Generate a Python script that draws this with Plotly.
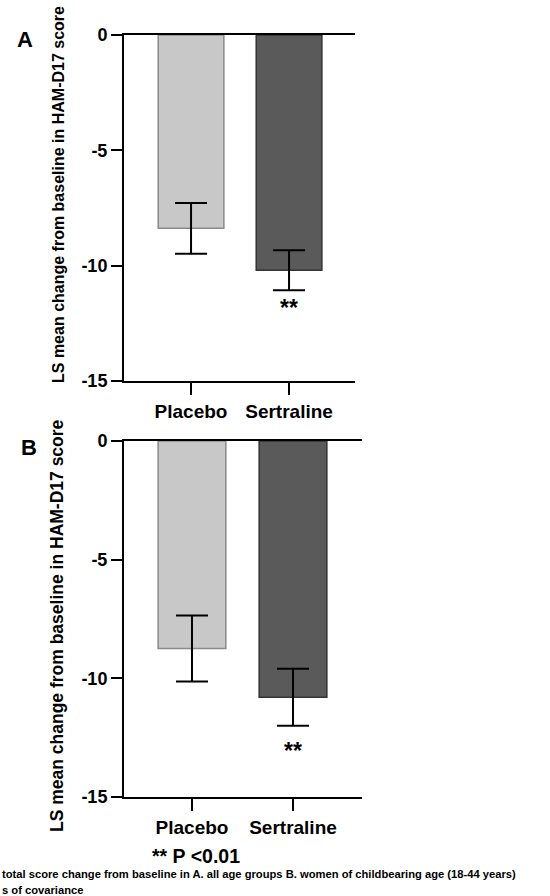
import plotly.graph_objects as go

W, H = 550, 896

categories = ["Placebo", "Sertraline"]
panel_a_means = [-8.38, -10.2]
panel_a_sem = [1.1, 0.87]
panel_b_means = [-8.74, -10.8]
panel_b_sem = [1.39, 1.2]
y_ticks = [0, -5, -10, -15]
y_title = "LS mean change from baseline in HAM-D17 score"
sig_label = "**"
footnote_sig = "** P <0.01"
footnote_1 = "total score change from baseline in A. all age groups B. women of childbearing age (18-44 years)"
footnote_2 = "s of covariance"

bar_colors = ["#c8c8c8", "#5a5a5a"]
bar_lines = ["#8a8a8a", "#333333"]

FONT = "Liberation Sans, Arial, sans-serif"


def px(x):
    return x / W


def py(y):
    return 1 - y / H


fig = go.Figure()
for means, sem, xa, ya in [(panel_a_means, panel_a_sem, "x", "y"),
                           (panel_b_means, panel_b_sem, "x2", "y2")]:
    fig.add_trace(go.Bar(
        x=categories, y=means, width=0.67,
        marker=dict(color=bar_colors, line=dict(color=bar_lines, width=1.5)),
        error_y=dict(type="data", array=sem, visible=True, color="black",
                     thickness=2, width=16),
        xaxis=xa, yaxis=ya, showlegend=False, hoverinfo="skip",
    ))

axis_common_y = dict(
    range=[-15, 0], tickvals=y_ticks, ticktext=["<b>%d</b>" % v for v in y_ticks],
    ticks="outside", ticklen=11, tickwidth=2, tickcolor="black",
    showline=True, linecolor="black", linewidth=2, showgrid=False, zeroline=False,
    automargin=False,
    tickfont=dict(family=FONT, size=18, color="black", weight="bold"),
)
axis_common_x = dict(
    type="category", ticks="outside", ticklen=12, tickwidth=2, tickcolor="black",
    showline=True, mirror=True, linecolor="black", linewidth=2, showgrid=False,
    automargin=False,
    tickfont=dict(family=FONT, size=19, color="black", weight="bold"),
)

fig.update_layout(
    template="simple_white",
    width=W, height=H, margin=dict(l=0, r=0, t=0, b=0, autoexpand=False),
    paper_bgcolor="white", plot_bgcolor="white",
    bargap=0.3,
    xaxis=dict(axis_common_x, domain=[px(124), px(355)], range=[-0.684, 1.673], anchor="y"),
    yaxis=dict(axis_common_y, domain=[py(381), py(35)], anchor="x"),
    xaxis2=dict(axis_common_x, domain=[px(124), px(362)], range=[-0.673, 1.683], anchor="y2"),
    yaxis2=dict(axis_common_y, domain=[py(797), py(441)], anchor="x2"),
)

ann = []
# panel letters
ann.append(dict(text="A", x=px(25), y=py(40), xref="paper", yref="paper",
                showarrow=False, xanchor="center", yanchor="middle",
                font=dict(family=FONT, size=22, color="black", weight="bold")))
ann.append(dict(text="B", x=px(29), y=py(447), xref="paper", yref="paper",
                showarrow=False, xanchor="center", yanchor="middle",
                font=dict(family=FONT, size=22, color="black", weight="bold")))
# y titles
ann.append(dict(text=y_title, x=px(58), y=py(195), xref="paper", yref="paper",
                showarrow=False, textangle=-90, xanchor="center", yanchor="middle",
                font=dict(family=FONT, size=16, color="black", weight="bold")))
ann.append(dict(text=y_title, x=px(57), y=py(626), xref="paper", yref="paper",
                showarrow=False, textangle=-90, xanchor="center", yanchor="middle",
                font=dict(family=FONT, size=17.5, color="black", weight="bold")))
# significance stars
ann.append(dict(text=sig_label, x=categories[1], y=panel_a_means[1] - panel_a_sem[1],
                xref="x", yref="y", showarrow=False, yanchor="middle", yshift=-18,
                font=dict(family=FONT, size=23, color="black", weight="bold")))
ann.append(dict(text=sig_label, x=categories[1], y=panel_b_means[1] - panel_b_sem[1],
                xref="x2", yref="y2", showarrow=False, yanchor="middle", yshift=-25,
                font=dict(family=FONT, size=23, color="black", weight="bold")))
# footnotes
ann.append(dict(text=footnote_sig, x=px(150), y=py(856), xref="paper", yref="paper",
                showarrow=False, xanchor="left", yanchor="middle",
                font=dict(family=FONT, size=19.5, color="black", weight="bold")))
ann.append(dict(text=footnote_1, x=0, y=py(874), xref="paper", yref="paper",
                showarrow=False, xanchor="left", yanchor="middle",
                font=dict(family=FONT, size=11.2, color="black", weight="bold")))
ann.append(dict(text=footnote_2, x=0, y=py(890), xref="paper", yref="paper",
                showarrow=False, xanchor="left", yanchor="middle",
                font=dict(family=FONT, size=11.2, color="black", weight="bold")))
fig.update_layout(annotations=ann)

fig.write_html("out.html", config={"displayModeBar": False},
               post_script="document.body.style.margin='0';")
